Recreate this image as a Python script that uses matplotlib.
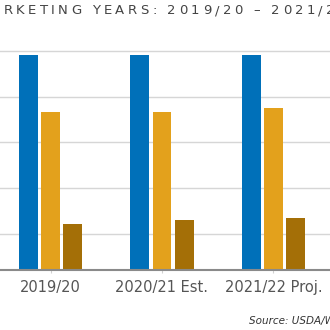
import numpy as np
import matplotlib
matplotlib.use('Agg')
from matplotlib import pyplot as plt
from matplotlib.font_manager import FontProperties

years = ['2019/20', '2020/21 Est.', '2021/22 Proj.']
supply = [982, 982, 982]
use = [732, 733, 748]
stocks = [241, 258, 266]
title = 'MARKETING YEARS: 2019/20 \u2013 2021/22'
source = 'Source: USDA/WASDE'

blue, gold, brown = '#0070b9', '#e3a11c', '#a46f07'

fig = plt.figure(figsize=(3.3, 3.3), dpi=100)
ax = fig.add_axes([0, 60/330, 1, 230.4/330])

x = np.arange(len(years))
w = 0.17
ax.bar(x - 0.2, supply, w, color=blue, zorder=3)
ax.bar(x, use, w, color=gold, zorder=3)
ax.bar(x + 0.2, stocks, w, color=brown, zorder=3)

ax.set_xlim(-0.453, 2.507)
ax.set_ylim(40, 1050)
ax.set_yticks([200, 400, 600, 800, 1000])
ax.set_yticklabels([])
ax.tick_params(axis='y', length=0)
ax.grid(axis='y', color='#d6d6d6', lw=1, zorder=0)
ax.set_xticks(x)
ax.set_xticklabels(years, fontsize=10.5, color='#555555')
ax.tick_params(axis='x', length=2, color='#d0d0d0', pad=5)
for s in ['top', 'left', 'right']:
    ax.spines[s].set_visible(False)
ax.spines['bottom'].set_color('#8a8a8a')
ax.spines['bottom'].set_linewidth(1.5)
ax.spines['bottom'].set_zorder(4)

# letter-spaced title, drawn one character at a time
renderer = fig.canvas.get_renderer()
size = 9.5
fp = FontProperties(family='DejaVu Sans', size=size)
track = 3.4
adv = []
for c in title:
    if c == ' ':
        adv.append(0.3 * size * 100 / 72 + track)
    else:
        adv.append(renderer.get_text_width_height_descent(c, fp, ismath=False)[0] + track)
pos = 3.3 - sum(adv[:2])
for c, a in zip(title, adv):
    fig.text(pos / 330, 1 - 11 / 330, c, fontproperties=fp, color='#444444',
             ha='left', va='center')
    pos += a

fig.text(249 / 330, 1 - 321 / 330, source, fontsize=7.5, style='italic',
         color='#333333', ha='left', va='center')

fig.savefig('out.png', dpi=100)
